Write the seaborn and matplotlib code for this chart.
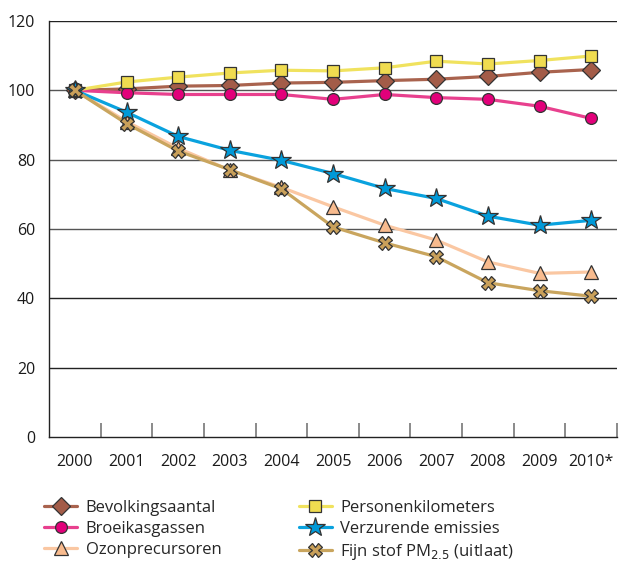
import matplotlib
matplotlib.use("Agg")
import matplotlib.pyplot as plt
import seaborn as sns
import pandas as pd
import numpy as np

years = ["2000", "2001", "2002", "2003", "2004", "2005", "2006", "2007", "2008", "2009", "2010*"]

bevolkingsaantal = [100, 100.4, 101.2, 101.4, 102.1, 102.3, 102.8, 103.2, 104.0, 105.2, 106.0]
broeikasgassen = [100, 99.3, 98.8, 98.8, 98.8, 97.4, 98.8, 97.9, 97.4, 95.4, 91.9]
ozonprecursoren = [100, 91.0, 83.3, 77.0, 72.0, 66.4, 61.1, 56.8, 50.5, 47.2, 47.6]
personenkilometers = [100, 102.4, 103.8, 105.0, 105.8, 105.6, 106.5, 108.4, 107.6, 108.6, 109.9]
verzurende = [100, 93.7, 86.7, 82.7, 79.8, 76.0, 71.7, 68.8, 63.7, 61.1, 62.5]
fijnstof = [100, 90.4, 82.5, 77.1, 71.6, 60.6, 56.0, 52.0, 44.5, 42.2, 40.6]

series_names = ["Bevolkingsaantal", "Broeikasgassen", "Ozonprecursoren",
                "Personenkilometers", "Verzurende emissies", "Fijn stof PM$_{2.5}$ (uitlaat)"]
series_values = [bevolkingsaantal, broeikasgassen, ozonprecursoren,
                 personenkilometers, verzurende, fijnstof]

styles = {
    "Bevolkingsaantal": dict(color="#A9634E", mfc="#A35C48", marker="D", ms=9.5),
    "Broeikasgassen": dict(color="#E8408E", mfc="#E2007A", marker="o", ms=8.5),
    "Ozonprecursoren": dict(color="#FAC7A2", mfc="#F8BB8E", marker="^", ms=10),
    "Personenkilometers": dict(color="#F0E25E", mfc="#F0DC50", marker="s", ms=8.5),
    "Verzurende emissies": dict(color="#0AA2DE", mfc="#0099D8", marker="*", ms=15),
    "Fijn stof PM$_{2.5}$ (uitlaat)": dict(color="#C9A55E", mfc="#C9A05A", marker="X", ms=9.5),
}

sns.set_theme(style="white")
plt.rcParams["font.family"] = ["Open Sans", "DejaVu Sans"]

fig = plt.figure(figsize=(6.21, 5.61), dpi=100)
ax = fig.add_axes([0.079, 0.221, 0.9146, 0.7416])

x = np.arange(len(years))
handles = []
for i in range(len(series_names)):
    name = series_names[i]
    st = styles[name]
    df = pd.DataFrame({"x": x, "y": series_values[i]})
    sns.lineplot(data=df, x="x", y="y", ax=ax, color=st["color"], linewidth=2.3,
                 marker=st["marker"], markersize=st["ms"], markerfacecolor=st["mfc"],
                 markeredgecolor="#333333", markeredgewidth=0.9, label=name,
                 legend=False, zorder=3 + i)
    handles.append(ax.lines[-1])

ax.set_xlim(-0.5, 10.5)
ax.set_ylim(0, 120)
ax.set_yticks([0, 20, 40, 60, 80, 100, 120])
ax.set_xticks(x)
ax.set_xticklabels(years)
ax.set_xticks(np.arange(0.5, 10.6, 1.0), minor=True)
ax.tick_params(axis="x", which="major", length=0, pad=12, labelsize=11.5, colors="#1a1a1a")
ax.tick_params(axis="x", which="minor", direction="in", length=10, width=1.2, color="#777777", bottom=True)
ax.tick_params(axis="y", which="major", length=0, pad=10, labelsize=11.5, colors="#1a1a1a")
ax.set_xlabel("")
ax.set_ylabel("")

for v in [20, 40, 60, 80, 100, 120]:
    ax.axhline(v, color="#555555" if v in (60, 80, 100) else "#222222", linewidth=1.0, zorder=1)

ax.spines["right"].set_visible(False)
ax.spines["top"].set_visible(False)
ax.spines["left"].set_color("#222222")
ax.spines["bottom"].set_color("#222222")
ax.spines["left"].set_linewidth(1.0)
ax.spines["bottom"].set_linewidth(1.0)

leg = fig.legend(handles=handles, labels=series_names, ncol=2, loc="center left",
                 bbox_to_anchor=(0.0465, 0.054), frameon=False, fontsize=12,
                 handlelength=2.0, columnspacing=4.65, labelspacing=0.3, handletextpad=0.5)

fig.savefig("out.png", dpi=100)
